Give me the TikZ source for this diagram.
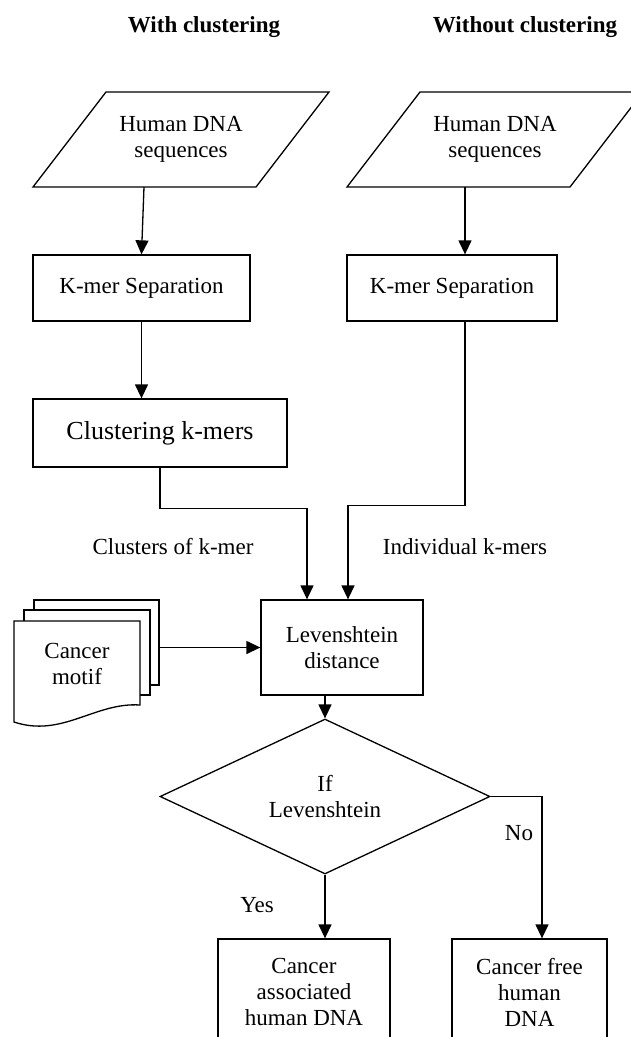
\documentclass[tikz,border=0pt]{standalone}
\usepackage{fontspec}
\setmainfont{Liberation Serif}
\usetikzlibrary{shapes.geometric,arrows.meta}
\begin{document}
\begin{tikzpicture}[x=1bp,y=-1bp,
  every node/.style={font=\fontsize{23bp}{26bp}\selectfont, align=center, inner sep=0pt},
  ln/.style={line width=1.3bp},
  box/.style={draw, line width=1.3bp, fill=white},
  arr/.style={line width=1.3bp, -{Triangle[length=14bp,width=13bp]}},
  ttl/.style={font=\fontsize{23bp}{26bp}\selectfont\bfseries}
]
\useasboundingbox (0,0) rectangle (631,1037);
\clip (0,0) rectangle (631,1037);

% titles
\node[ttl] (t1) at (204,27) {With clustering};
\node[ttl] (t2) at (525,27) {Without clustering};

% inputs (parallelograms)
\draw[ln] (33,187) -- (256,187) -- (329,92) -- (106,92) -- cycle;
\draw[ln] (347,187) -- (570,187) -- (643,92) -- (420,92) -- cycle;
\node (pL) at (181,139.5) {Human DNA\\sequences};
\node (pR) at (495,139.5) {Human DNA\\sequences};
\coordinate (pLb) at (144,187);
\coordinate (pRb) at (465,187);

% k-mer separation
\node[box, minimum width=217bp, minimum height=66bp] (kL) at (141.5,288) {K-mer Separation};
\node[box, minimum width=210bp, minimum height=66bp] (kR) at (452,288) {K-mer Separation};

% clustering
\node[box, minimum width=254bp, minimum height=68bp, font=\fontsize{26bp}{30bp}\selectfont] (cl) at (160,433) {Clustering k-mers};

% labels
\node (lc) at (173,547) {Clusters of k-mer};
\node (li) at (465,547) {Individual k-mers};

% levenshtein
\node[box, minimum width=162bp, minimum height=95bp] (lev) at (342,647.5) {Levenshtein\\distance};

% cancer motif (multi document)
\node[box, minimum width=125bp, minimum height=85bp] (m3) at (96.5,642.5) {};
\node[box, minimum width=126bp, minimum height=85bp] (m2) at (87,652.5) {};
\draw[ln, fill=white] (14,621) -- (140,621) -- (140,705)
   .. controls (95,702) and (62,738) .. (14,722) -- cycle;
\node (mot) at (77,664) {Cancer\\motif};

% decision
\node[draw, diamond, line width=1.3bp, minimum width=330bp, minimum height=155bp] (dia) at (325,796.5) {If\\Levenshtein};

% outputs
\node[box, minimum width=172bp, minimum height=106bp] (bL) at (304,992) {Cancer\\associated\\human DNA};
\node[box, minimum width=155bp, minimum height=106bp] (bR) at (529.5,992) {Cancer free\\human\\DNA};

\node (yes) at (257,905) {Yes};
\node (no) at (519,833) {No};

% connectors
\draw[arr] (pLb) -- (kL.north);
\draw[arr] (pRb) -- (pRb |- kR.north);
\draw[arr] (kL.south) -- (kL.south |- cl.north);
\draw[arr] (cl.south) -- ++(0,41) -| ([xshift=-35bp]lev.north);
\draw[arr] ([xshift=13bp]kR.south) -- ++(0,184) -| ([xshift=6bp]lev.north);
\draw[arr] (m3.east |- lev.west) -- (lev.west);
\draw[arr] (dia.north |- lev.south) -- (dia.north);
\draw[arr] (dia.south) -- (dia.south |- bL.north);
\draw[arr] (dia.east) -| ([xshift=12.5bp]bR.north);
\end{tikzpicture}
\end{document}
